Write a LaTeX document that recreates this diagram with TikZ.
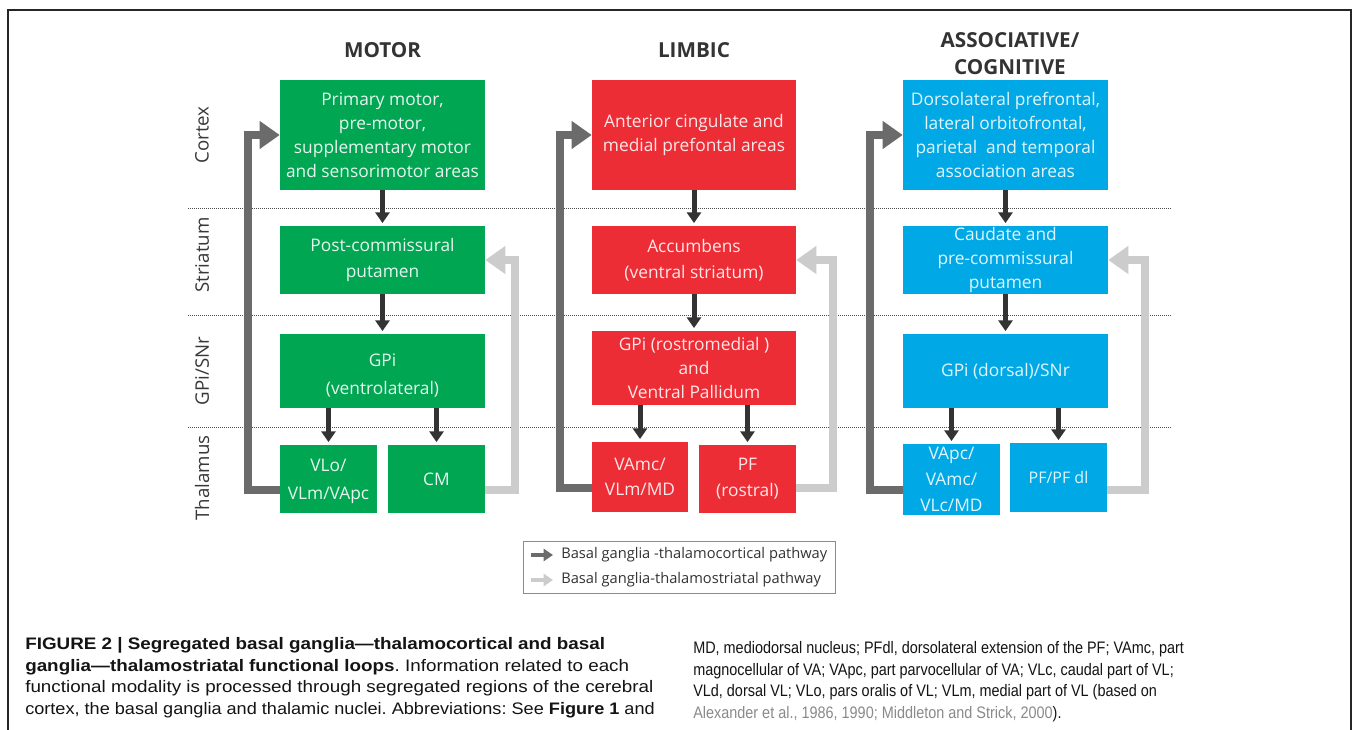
\documentclass[tikz,border=0pt]{standalone}
\usepackage{fontspec}
\setmainfont{Open Sans}
\newfontfamily\capfontL{Liberation Sans}[FakeStretch=1.13]
\newfontfamily\capfontR{Liberation Sans}[FakeStretch=0.866]
\usetikzlibrary{arrows.meta,calc}
\definecolor{mgreen}{HTML}{00A651}
\definecolor{lred}{HTML}{ED2D35}
\definecolor{ablue}{HTML}{00A9E6}
\definecolor{darr}{HTML}{333333}
\definecolor{loopdark}{HTML}{6B6B6B}
\definecolor{looplight}{HTML}{CCCCCC}
\definecolor{hdrc}{HTML}{333333}
\definecolor{citec}{HTML}{8A8A8A}
\newdimen\px \px=0.75pt
\frenchspacing
\tikzset{
  bx/.style={inner sep=0pt, align=center, font=\fontsize{13}{18}\selectfont},
  gbox/.style={bx, fill=mgreen, text=white!90!mgreen},
  rbox/.style={bx, fill=lred, text=white!88!lred},
  bbox/.style={bx, fill=ablue, text=white!88!ablue},
  darrow/.style={draw=darr, line width=3.75pt, -{Triangle[width=10.5pt,length=8pt]}, shorten >=2pt},
  loopd/.style={draw=loopdark, line width=5.8pt, -{Triangle[width=20pt,length=15pt]}},
  loopl/.style={loopd, draw=looplight},
  sepline/.style={draw=black!70, line width=0.75pt, dash pattern=on 0.75pt off 0.75pt},
  hdr/.style={font=\fontsize{15.5}{20}\selectfont\bfseries, text=hdrc, align=center, inner sep=0pt},
  side/.style={rotate=90, font=\fontsize{14}{16}\selectfont, text=black!78, inner sep=0pt},
  legtext/.style={anchor=west, font=\fontsize{11}{13}\selectfont, text=black!80, inner sep=0pt},
  capt/.style={anchor=north west, align=left, inner sep=0pt, text=black!92},
}
\begin{document}
\begin{tikzpicture}[x=0.75pt,y=-0.75pt]
\useasboundingbox (0,0) rectangle (1354,730);
\fill[white] (0,0) rectangle (1354,730);
% frame
\draw[black!85, line width=1.2pt] (8,745) -- (8,10) -- (1351,10) -- (1351,745);

% separators
\draw[sepline] (188,209) -- (1172,209);
\draw[sepline] (188,316) -- (1172,316);
\draw[sepline] (188,428) -- (1172,428);

% side labels
\node[side] (sCx) at (202,135) {Cortex};
\node[side] (sSt) at (202,255) {Striatum};
\node[side] (sGP) at (202,371) {GPi/SNr};
\node[side] (sTh) at (202,478) {Thalamus};

% headers
\node[hdr] (hM) at (382.5,50) {MOTOR};
\node[hdr] (hL) at (694,50) {LIMBIC};
\node[hdr] (hA) at (1010,53.5) {ASSOCIATIVE/\\COGNITIVE};

% MOTOR
\node[gbox, minimum width=205\px, minimum height=110\px] (mc) at (382.5,135) {Primary motor,\\pre-motor,\\supplementary motor\\and sensorimotor areas};
\node[gbox, minimum width=205\px, minimum height=68\px, font=\fontsize{13}{20}\selectfont] (ms) at (382.5,260) {Post-commissural\\putamen};
\node[gbox, minimum width=205\px, minimum height=74\px, font=\fontsize{13}{21}\selectfont] (mg) at (382.5,371) {\rule{0pt}{17pt}GPi\\(ventrolateral)};
\node[gbox, minimum width=97\px, minimum height=68\px, font=\fontsize{13}{21}\selectfont] (mt1) at (328.5,479) {\rule{0pt}{13pt}VLo/\\VLm/VApc};
\node[gbox, minimum width=97\px, minimum height=68\px] (mt2) at (436.5,479) {CM};

% LIMBIC
\node[rbox, minimum width=204\px, minimum height=110\px] (lc) at (694,135) {Anterior cingulate and\\medial prefontal areas};
\node[rbox, minimum width=204\px, minimum height=68\px, font=\fontsize{13}{19.5}\selectfont] (ls) at (694,260) {Accumbens\\(ventral striatum)};
\node[rbox, minimum width=204\px, minimum height=74\px] (lg) at (694,368) {GPi (rostromedial )\\and\\Ventral Pallidum};
\node[rbox, minimum width=96\px, minimum height=70\px, font=\fontsize{13}{19}\selectfont] (lt1) at (640,477) {VAmc/\\VLm/MD};
\node[rbox, minimum width=97\px, minimum height=68\px, font=\fontsize{13}{19.5}\selectfont] (lt2) at (747.5,479) {PF\\(rostral)};

% ASSOCIATIVE
\node[bbox, minimum width=205\px, minimum height=110\px] (ac) at (1005.5,135) {Dorsolateral prefrontal,\\lateral orbitofrontal,\\parietal\ \ and temporal\\association areas};
\node[bbox, minimum width=205\px, minimum height=68\px] (as) at (1005.5,260) {Caudate and\\pre-commissural\\putamen};
\node[bbox, minimum width=205\px, minimum height=74\px] (ag) at (1005.5,371) {GPi (dorsal)/SNr};
\node[bbox, minimum width=97\px, minimum height=71\px, font=\fontsize{13}{19.5}\selectfont] (at1) at (951.5,479.5) {VApc/\\VAmc/\\VLc/MD};
\node[bbox, minimum width=97\px, minimum height=69\px, font=\fontsize{12}{14}\selectfont] (at2) at (1058.5,477.5) {PF/PF dl};

% vertical flow arrows
\draw[darrow] (mc) -- (ms);
\draw[darrow] (ms) -- (mg);
\draw[darrow] (mt1.north |- mg.south) -- (mt1.north);
\draw[darrow] (mt2.north |- mg.south) -- (mt2.north);
\draw[darrow] (lc) -- (ls);
\draw[darrow] (ls) -- (lg);
\draw[darrow] (lt1.north |- lg.south) -- (lt1.north);
\draw[darrow] (lt2.north |- lg.south) -- (lt2.north);
\draw[darrow] (ac) -- (as);
\draw[darrow] (as) -- (ag);
\draw[darrow] (at1.north |- ag.south) -- (at1.north);
\draw[darrow] (at2.north |- ag.south) -- (at2.north);

% loops
\draw[loopd] ([yshift=-11\px]mt1.west) -- ++(-32,0) |- (mc.west);
\draw[loopl] ([yshift=-11\px]mt2.east) -- ++(30,0) |- (ms.east);
\draw[loopd] ([yshift=-11\px]lt1.west) -- ++(-32,0) |- (lc.west);
\draw[loopl] ([yshift=-9\px]lt2.east) -- ++(37,0) |- (ls.east);
\draw[loopd] ([yshift=-10.5\px]at1.west) -- ++(-33,0) |- (ac.west);
\draw[loopl] ([yshift=-12.5\px]at2.east) -- ++(38,0) |- (as.east);

% legend
\node[draw=black!45, line width=0.75pt, minimum width=312\px, minimum height=52\px, inner sep=0pt] (leg) at (679,568) {};
\coordinate (la1) at (531,555);
\coordinate (lb1) at (553,555);
\coordinate (la2) at (531,580);
\coordinate (lb2) at (553,580);
\draw[draw=loopdark, line width=3pt, -{Triangle[width=9pt,length=7pt]}] (la1) -- (lb1);
\draw[draw=looplight, line width=3pt, -{Triangle[width=9pt,length=7pt]}] (la2) -- (lb2);
\node[legtext] (lt1t) at (561,555) {Basal ganglia -thalamocortical pathway};
\node[legtext] (lt2t) at (561,580) {Basal ganglia-thalamostriatal pathway};

% caption
\node[capt, font=\capfontL\fontsize{12.5}{16.3}\selectfont] (capL) at (25,637) {\textbf{FIGURE 2 | Segregated basal ganglia—thalamocortical and basal}\\
\textbf{ganglia—thalamostriatal functional loops}. Information related to each\\
functional modality is processed through segregated regions of the cerebral\\
\scalebox{0.962}[1]{cortex, the basal ganglia and thalamic nuclei. Abbreviations: See \textbf{Figure 1} and}};
\node[capt, font=\capfontR\fontsize{12.5}{16.3}\selectfont] (capR) at (693,641) {MD, mediodorsal nucleus; PFdl, dorsolateral extension of the PF; VAmc, part\\
magnocellular of VA; VApc, part parvocellular of VA; VLc, caudal part of VL;\\
VLd, dorsal VL; VLo, pars oralis of VL; VLm, medial part of VL (based on\\
{\color{citec}Alexander et al., 1986, 1990; Middleton and Strick, 2000}).};
\end{tikzpicture}
\end{document}
